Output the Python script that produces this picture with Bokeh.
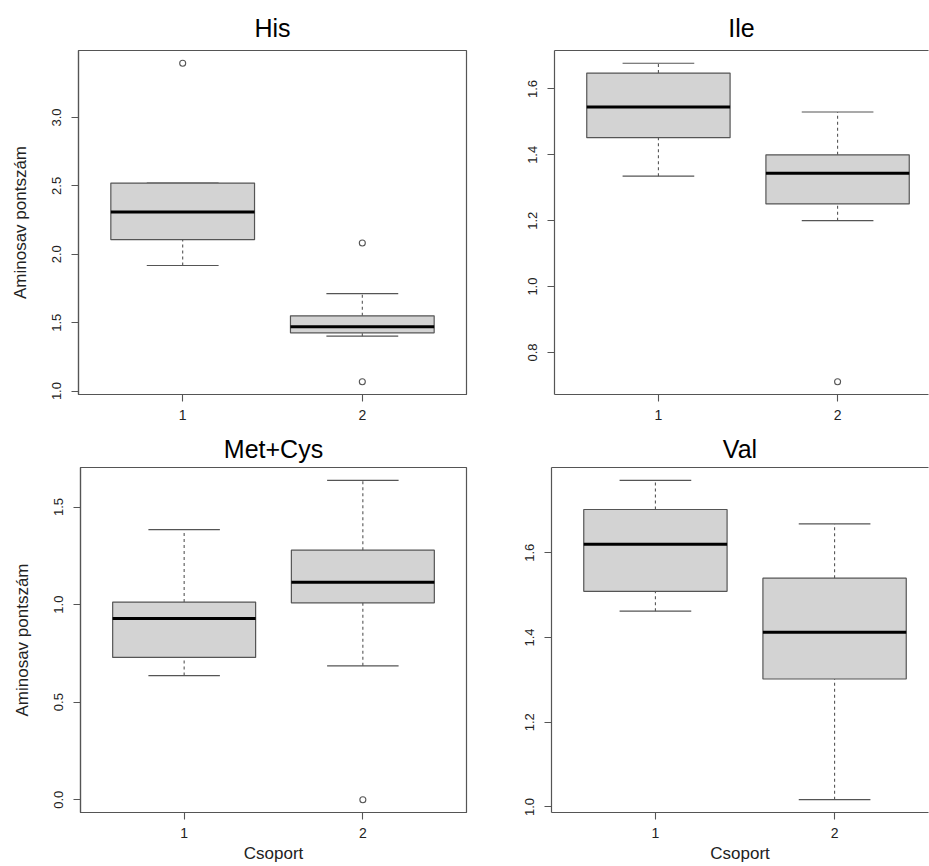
from bokeh.plotting import figure
from bokeh.models import (FixedTicker, PrintfTickFormatter, LinearAxis, Range1d,
                          ColumnDataSource)
from bokeh.layouts import column, row
from bokeh.transform import dodge
from bokeh.embed import file_html
from bokeh.resources import INLINE

groups = [1, 2]

his_lower = [1.918, 1.401]
his_q1 = [2.107, 1.426]
his_med = [2.309, 1.470]
his_q3 = [2.521, 1.550]
his_upper = [2.521, 1.713]
his_out_x = [1, 2, 2]
his_out_y = [3.397, 2.083, 1.068]
his_yticks = [1.0, 1.5, 2.0, 2.5, 3.0]

ile_lower = [1.335, 1.200]
ile_q1 = [1.452, 1.251]
ile_med = [1.545, 1.344]
ile_q3 = [1.648, 1.400]
ile_upper = [1.678, 1.530]
ile_out_x = [2]
ile_out_y = [0.711]
ile_yticks = [0.8, 1.0, 1.2, 1.4, 1.6]

mc_lower = [0.636, 0.686]
mc_q1 = [0.729, 1.009]
mc_med = [0.929, 1.114]
mc_q3 = [1.013, 1.279]
mc_upper = [1.384, 1.637]
mc_out_x = [2]
mc_out_y = [0.0]
mc_yticks = [0.0, 0.5, 1.0, 1.5]

val_lower = [1.462, 1.017]
val_q1 = [1.509, 1.302]
val_med = [1.620, 1.412]
val_q3 = [1.702, 1.540]
val_upper = [1.771, 1.668]
val_out_x = []
val_out_y = []
val_yticks = [1.0, 1.2, 1.4, 1.6]

titles = ["His", "Ile", "Met+Cys", "Val"]
y_label = "Aminosav pontszám"
x_label = "Csoport"

FONT = "Liberation Sans"
LINE = "#555555"


def make_panel(title, lower, q1, med, q3, upper, out_x, out_y, yticks,
               fw, fh, mbl, mbr, mbt, mbb, xend, ylabel, xlabel, open_right,
               title_standoff):
    ymin = min(lower + out_y)
    ymax = max(upper + out_y)
    pad = 0.04 * (ymax - ymin)
    p = figure(frame_width=fw, frame_height=fh,
               x_range=Range1d(0.42, xend), y_range=Range1d(ymin - pad, ymax + pad),
               output_backend="svg", toolbar_location=None,
               min_border_left=mbl, min_border_right=mbr,
               min_border_top=mbt, min_border_bottom=mbb)
    p.title.text = title
    p.title.text_font = FONT
    p.title.text_font_size = "25px"
    p.title.text_font_style = "normal"
    p.title.align = "center"
    p.title.text_color = "black"
    p.title.standoff = title_standoff
    p.xgrid.visible = False
    p.ygrid.visible = False
    p.background_fill_color = "white"
    p.border_fill_color = "white"

    src = ColumnDataSource(dict(x=groups, lower=lower, q1=q1, med=med,
                                q3=q3, upper=upper))
    # whiskers
    p.segment(x0="x", y0="q3", x1="x", y1="upper", source=src,
              line_color=LINE, line_dash="3 3", line_width=1.1)
    p.segment(x0="x", y0="lower", x1="x", y1="q1", source=src,
              line_color=LINE, line_dash="3 3", line_width=1.1)
    # staples
    p.segment(x0=dodge("x", -0.2), y0="upper", x1=dodge("x", 0.2), y1="upper",
              source=src, line_color=LINE, line_width=1.2)
    p.segment(x0=dodge("x", -0.2), y0="lower", x1=dodge("x", 0.2), y1="lower",
              source=src, line_color=LINE, line_width=1.2)
    # boxes
    p.vbar(x="x", width=0.8, bottom="q1", top="q3", source=src,
           fill_color="#d3d3d3", line_color=LINE, line_width=1.2)
    # medians
    p.segment(x0=dodge("x", -0.4), y0="med", x1=dodge("x", 0.4), y1="med",
              source=src, line_color="black", line_width=3)
    # outliers
    if out_x:
        p.scatter(out_x, out_y, marker="circle", size=6, fill_color=None,
                  line_color=LINE, line_width=1.1)

    xax = p.below[0]
    yax = p.left[0]
    for ax in (xax, yax):
        ax.axis_line_color = LINE
        ax.axis_line_width = 1.2
        ax.major_tick_line_color = LINE
        ax.major_tick_line_width = 1.1
        ax.major_tick_out = 7
        ax.major_tick_in = 0
        ax.minor_tick_line_color = None
        ax.major_label_text_font = FONT
        ax.major_label_text_color = "#222222"
        ax.axis_label_text_font = FONT
        ax.axis_label_text_font_size = "17px"
        ax.axis_label_text_font_style = "normal"
        ax.axis_label_text_color = "#222222"

    xax.ticker = FixedTicker(ticks=groups)
    xax.formatter = PrintfTickFormatter(format="%d")
    xax.major_label_text_font_size = "14px"
    xax.major_label_standoff = 8
    yax.ticker = FixedTicker(ticks=yticks)
    yax.formatter = PrintfTickFormatter(format="%.1f")
    yax.major_label_text_font_size = "13px"
    yax.major_label_orientation = "vertical"
    yax.major_label_standoff = 10
    if ylabel:
        yax.axis_label = ylabel
        yax.axis_label_standoff = 20
    if xlabel:
        xax.axis_label = xlabel
        xax.axis_label_standoff = 3

    if open_right:
        p.outline_line_color = None
        top = LinearAxis(ticker=FixedTicker(ticks=[]), axis_line_color=LINE,
                         axis_line_width=1.2,
                         major_label_text_font_size="0px",
                         major_label_standoff=0,
                         major_tick_line_color=None, minor_tick_line_color=None,
                         major_tick_out=0, major_tick_in=0)
        p.add_layout(top, "above")
    else:
        p.outline_line_color = LINE
        p.outline_line_width = 1.2
    return p


p1 = make_panel(titles[0], his_lower, his_q1, his_med, his_q3, his_upper,
                his_out_x, his_out_y, his_yticks,
                388, 344, 78, 20, 50, 33, 2.58, y_label, None, False, 18)
p2 = make_panel(titles[1], ile_lower, ile_q1, ile_med, ile_q3, ile_upper,
                ile_out_x, ile_out_y, ile_yticks,
                374, 344, 68, 1, 50, 33, 0.42 + 2.16 * 374 / 387, None, None, True, 18)
p3 = make_panel(titles[2], mc_lower, mc_q1, mc_med, mc_q3, mc_upper,
                mc_out_x, mc_out_y, mc_yticks,
                386, 345, 80, 20, 39, 55, 2.58, y_label, x_label, False, 10)
p4 = make_panel(titles[3], val_lower, val_q1, val_med, val_q3, val_upper,
                val_out_x, val_out_y, val_yticks,
                377, 345, 65, 1, 39, 55, 0.42 + 2.16 * 377 / 387, None, x_label, True, 10)

layout = column(row(p1, p2), row(p3, p4))

open("out.html", "w").write(file_html(layout, INLINE))
